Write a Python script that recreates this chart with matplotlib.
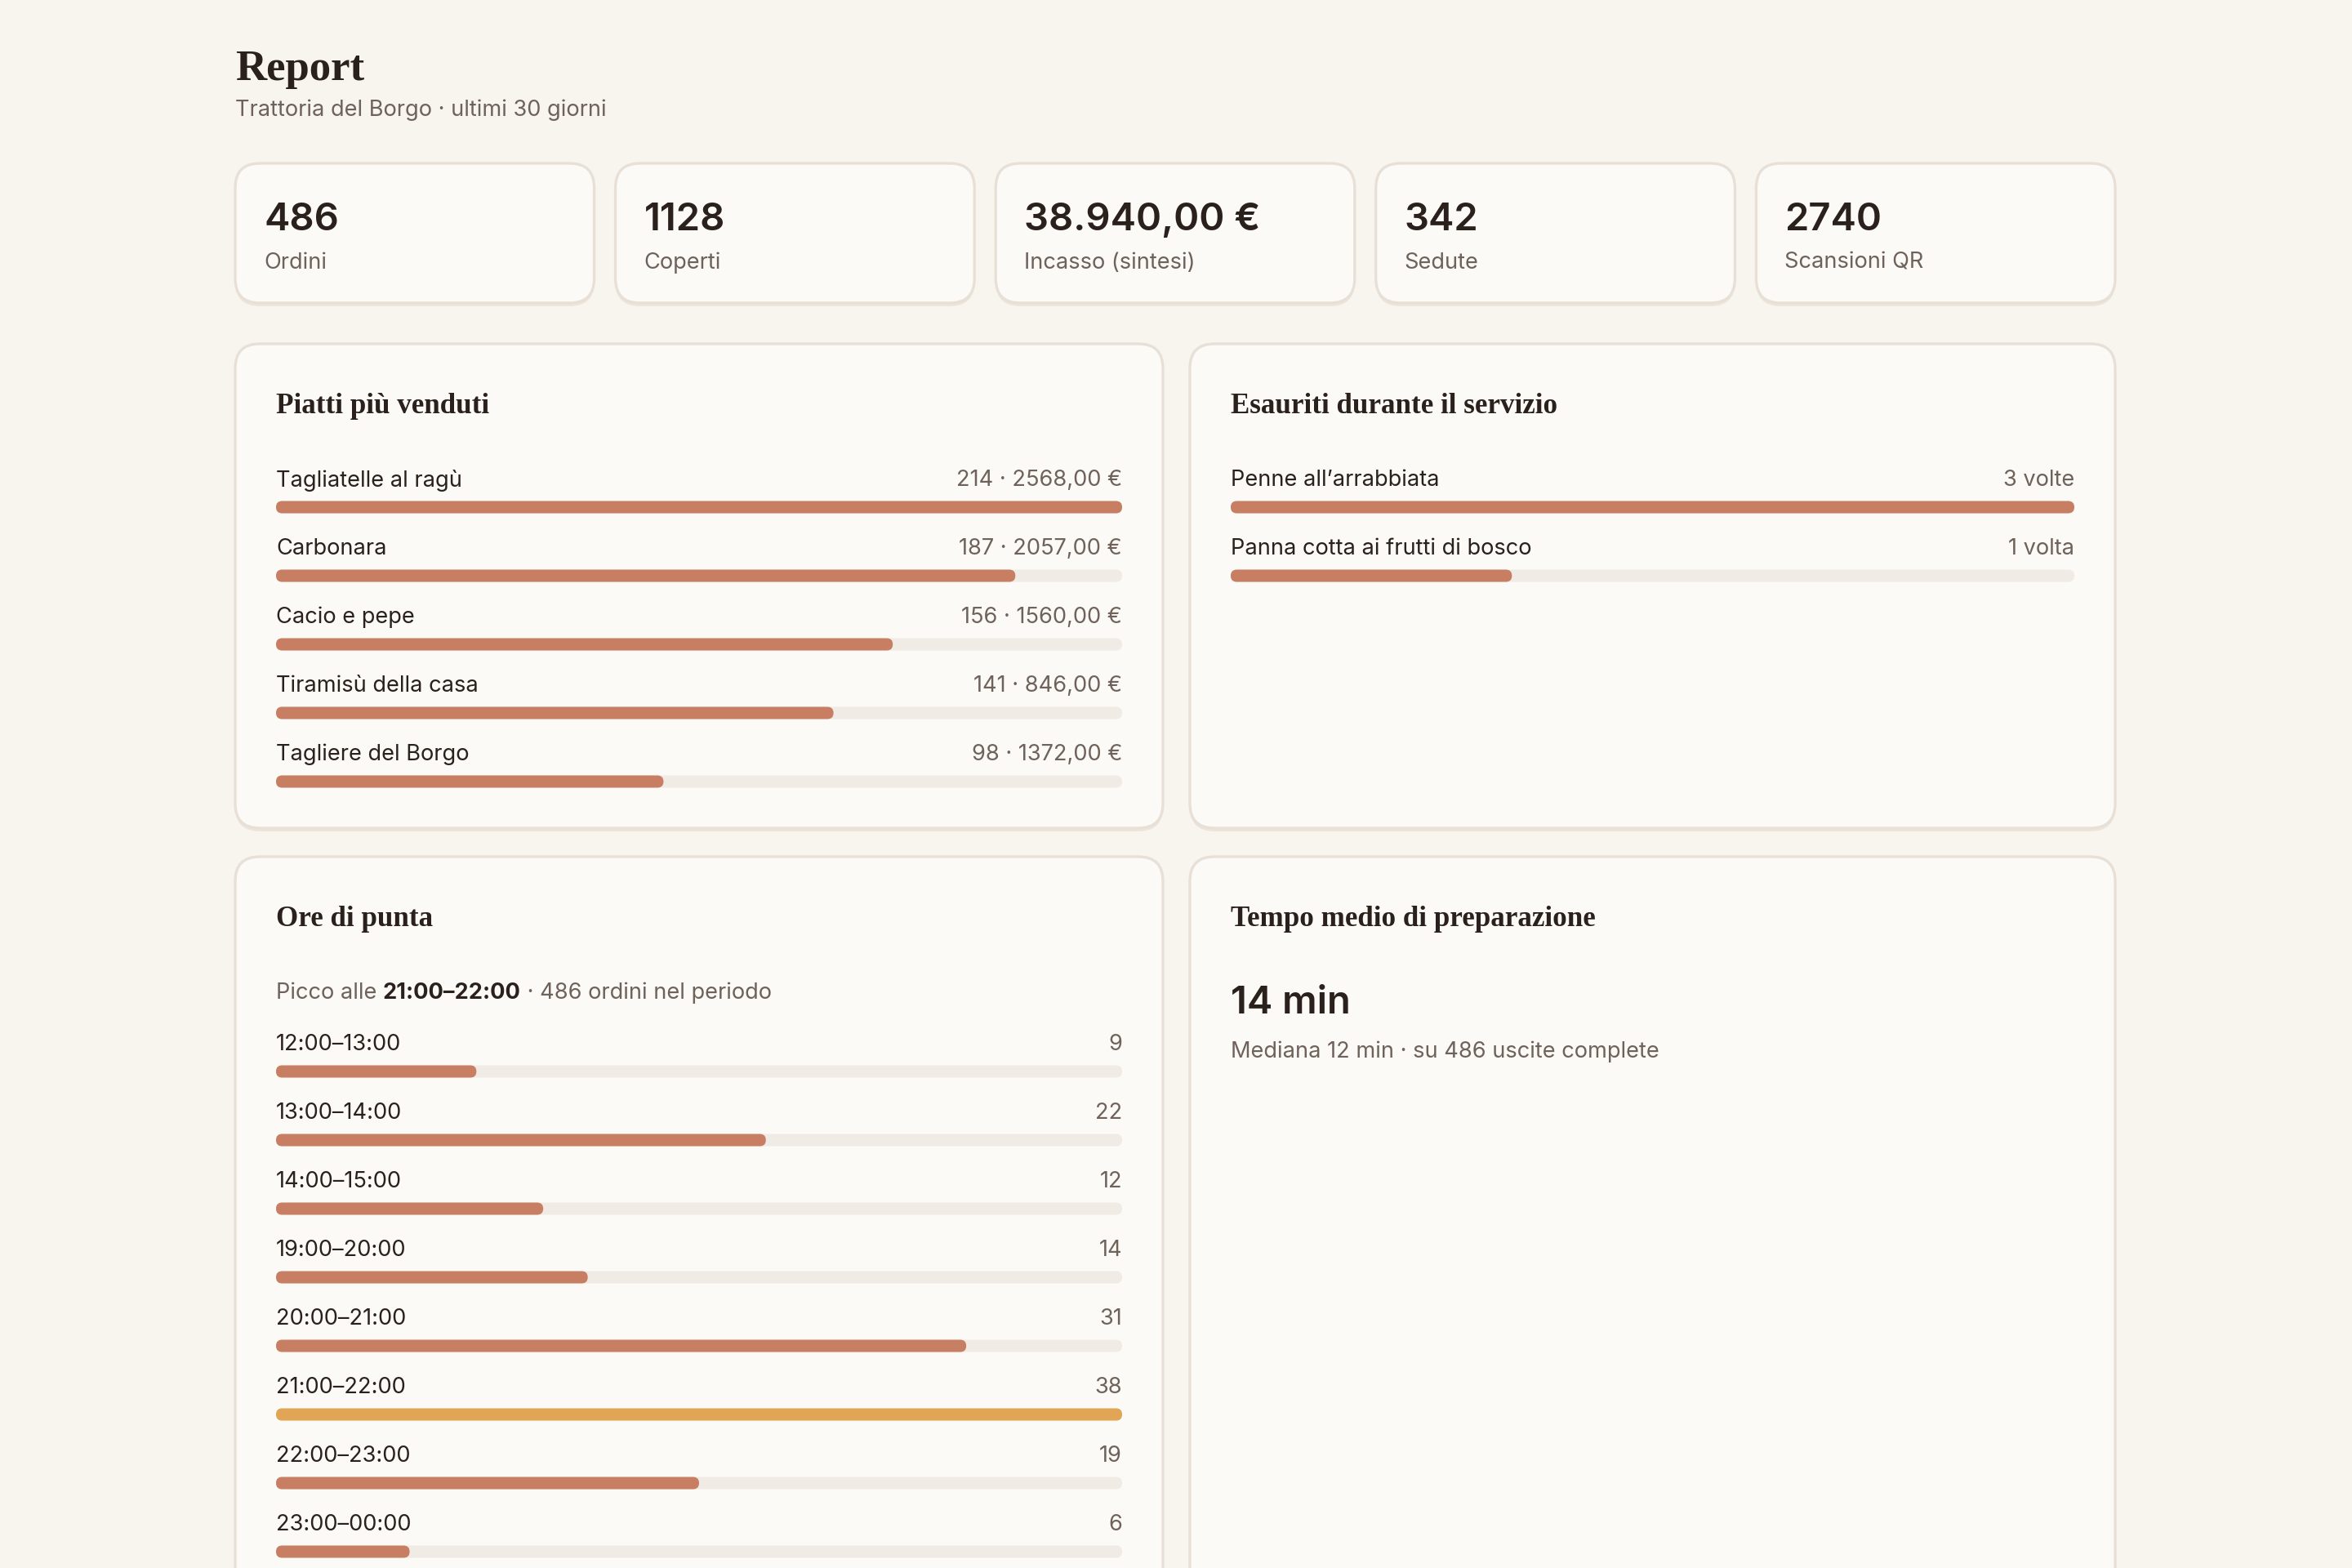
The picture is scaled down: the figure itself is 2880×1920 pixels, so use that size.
import matplotlib
matplotlib.use('Agg')
import matplotlib.pyplot as plt
from matplotlib.patches import FancyBboxPatch

# data
kpi_values = ['486', '1128', '38.940,00 €', '342', '2740']
kpi_labels = ['Ordini', 'Coperti', 'Incasso (sintesi)', 'Sedute', 'Scansioni QR']

dishes = ['Tagliatelle al ragù', 'Carbonara', 'Cacio e pepe', 'Tiramisù della casa', 'Tagliere del Borgo']
dish_qty = [214, 187, 156, 141, 98]
dish_revenue = [2568.00, 2057.00, 1560.00, 846.00, 1372.00]

soldout = ['Penne all’arrabbiata', 'Panna cotta ai frutti di bosco']
soldout_count = [3, 1]

hours = ['12:00–13:00', '13:00–14:00', '14:00–15:00', '19:00–20:00',
         '20:00–21:00', '21:00–22:00', '22:00–23:00', '23:00–00:00']
hour_orders = [9, 22, 12, 14, 31, 38, 19, 6]
total_orders = 486

avg_prep = 14
median_prep = 12
completed = 486

# colours
BG = '#F8F5EF'
CARD = '#FCFAF6'
EDGE = '#E8E0D6'
SHADOW = '#ECE5DB'
BAR = '#C77E63'
PEAK = '#E0A656'
TRACK = '#F0EBE4'
DARK = '#2B211C'
MUTED = '#6E625A'

SANS = 'Inter'
SERIF = 'Liberation Serif'
BODY = 9.8

W, H = 2880, 1920
fig = plt.figure(figsize=(14.4, 9.6), dpi=200)
fig.patch.set_facecolor(BG)
ax = fig.add_axes([0, 0, 1, 1])
ax.set_xlim(0, W)
ax.set_ylim(H, 0)
ax.axis('off')


def card(x0, y0, x1, y1, r=30):
    ax.add_patch(FancyBboxPatch((x0, y0 + 4), x1 - x0, y1 - y0,
                                boxstyle=f'round,pad=0,rounding_size={r}',
                                fc=SHADOW, ec='none', zorder=1))
    ax.add_patch(FancyBboxPatch((x0, y0), x1 - x0, y1 - y0,
                                boxstyle=f'round,pad=0,rounding_size={r}',
                                fc=CARD, ec=EDGE, lw=1.2, zorder=2))


def bar(x0, x1, y, frac, color=BAR, h=15):
    ax.add_patch(FancyBboxPatch((x0, y - h / 2), x1 - x0, h,
                                boxstyle=f'round,pad=0,rounding_size={h/2}',
                                fc=TRACK, ec='none', zorder=3))
    ax.add_patch(FancyBboxPatch((x0, y - h / 2), (x1 - x0) * frac, h,
                                boxstyle=f'round,pad=0,rounding_size={h/2}',
                                fc=color, ec='none', zorder=4))


def rows(x0, x1, y_first, labels, values, texts, colors=None, step=84):
    vmax = max(values)
    for i, (lab, v, t) in enumerate(zip(labels, values, texts)):
        y = y_first + i * step
        ax.text(x0, y + 2, lab, family=SANS, fontsize=BODY, color=DARK, va='center', zorder=5)
        ax.text(x1, y + 2, t, family=SANS, fontsize=BODY, color=MUTED, va='center', ha='right', zorder=5)
        c = colors[i] if colors else BAR
        bar(x0, x1, y + 35, v / vmax, c)


# header
ax.text(288, 85, 'Report', family=SERIF, fontsize=19, fontweight='bold', color=DARK, va='center')
ax.text(288, 135, 'Trattoria del Borgo · ultimi 30 giorni', family=SANS, fontsize=BODY,
        color=MUTED, va='center')

# kpi cards
left, right, gap = 288, 2590, 26
cw = (right - left - 4 * gap) / 5
for i, (v, lab) in enumerate(zip(kpi_values, kpi_labels)):
    x0 = left + i * (cw + gap)
    card(x0, 200, x0 + cw, 371)
    ax.text(x0 + 35, 270, v, family=SANS, fontsize=17, fontweight='semibold', color=DARK,
            va='center', zorder=5)
    ax.text(x0 + 35, 322, lab, family=SANS, fontsize=BODY, color=MUTED, va='center', zorder=5)

# panels
PL = (288, 1424)
PR = (1457, 2590)
card(PL[0], 421, PL[1], 1014)
card(PR[0], 421, PR[1], 1014)
card(PL[0], 1049, PL[1], 1990)
card(PR[0], 1049, PR[1], 1990)

TS = 12.6
# piatti più venduti
ax.text(PL[0] + 50, 498, 'Piatti più venduti', family=SERIF, fontsize=TS, fontweight='bold',
        color=DARK, va='center', zorder=5)
dish_txt = [f'{q} · ' + f'{r:.2f}'.replace('.', ',') + ' €' for q, r in zip(dish_qty, dish_revenue)]
rows(PL[0] + 50, PL[1] - 50, 586, dishes, dish_qty, dish_txt)

# esauriti
ax.text(PR[0] + 50, 498, 'Esauriti durante il servizio', family=SERIF, fontsize=TS,
        fontweight='bold', color=DARK, va='center', zorder=5)
so_txt = [f'{c} volte' if c != 1 else f'{c} volta' for c in soldout_count]
rows(PR[0] + 50, PR[1] - 50, 586, soldout, soldout_count, so_txt)

# ore di punta
ax.text(PL[0] + 50, 1126, 'Ore di punta', family=SERIF, fontsize=TS, fontweight='bold',
        color=DARK, va='center', zorder=5)
peak = hour_orders.index(max(hour_orders))
t1 = ax.text(PL[0] + 50, 1216, 'Picco alle ', family=SANS, fontsize=BODY, color=MUTED,
             va='center', zorder=5)
t2 = ax.annotate(hours[peak], xy=(1, 0.5), xycoords=t1, family=SANS, fontsize=BODY,
                 fontweight='bold', color=DARK, va='center', zorder=5)
ax.annotate(f' · {total_orders} ordini nel periodo', xy=(1, 0.5), xycoords=t2, family=SANS,
            fontsize=BODY, color=MUTED, va='center', zorder=5)
hour_colors = [PEAK if i == peak else BAR for i in range(len(hours))]
rows(PL[0] + 50, PL[1] - 50, 1277, hours, hour_orders, [str(v) for v in hour_orders], hour_colors)

# tempo medio
ax.text(PR[0] + 50, 1126, 'Tempo medio di preparazione', family=SERIF, fontsize=TS,
        fontweight='bold', color=DARK, va='center', zorder=5)
ax.text(PR[0] + 50, 1229, f'{avg_prep} min', family=SANS, fontsize=17, fontweight='semibold',
        color=DARK, va='center', zorder=5)
ax.text(PR[0] + 50, 1288, f'Mediana {median_prep} min · su {completed} uscite complete',
        family=SANS, fontsize=BODY, color=MUTED, va='center', zorder=5)

fig.savefig('out.png', dpi=200, facecolor=BG)
